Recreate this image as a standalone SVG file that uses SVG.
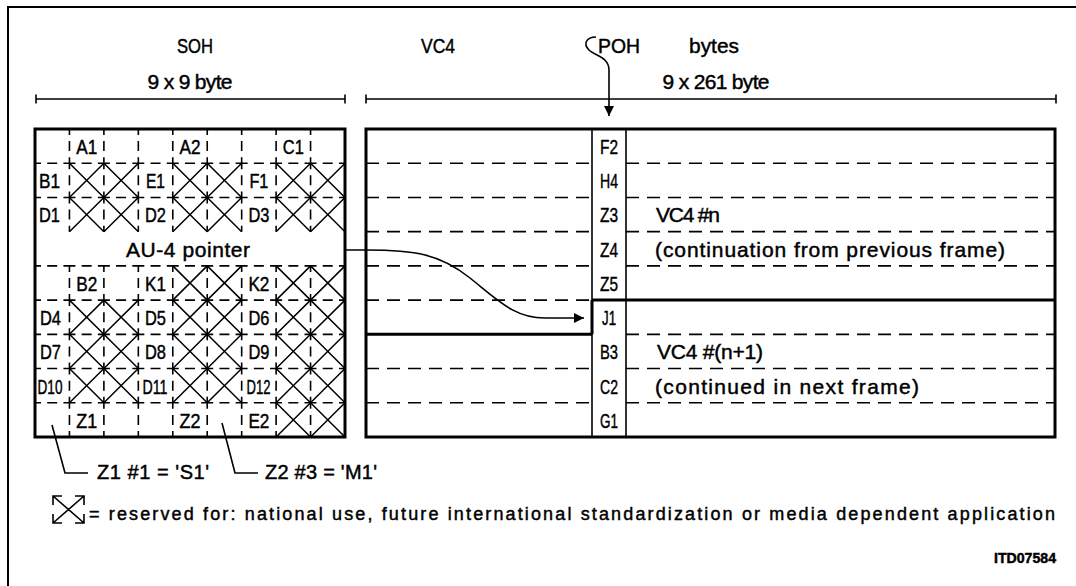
<svg xmlns="http://www.w3.org/2000/svg" xmlns:xlink="http://www.w3.org/1999/xlink" width="1076" height="586" viewBox="0 0 1076 586">
<style>
.t{font-family:"Liberation Sans",Arial,sans-serif;fill:#000;stroke:#000;stroke-width:0.45}
.lbl{font-size:21px;text-anchor:middle}
.big{font-size:21px}
.leg{font-size:20px}
.thick{fill:none;stroke:#000;stroke-width:3}
.thin{fill:none;stroke:#000;stroke-width:1.6}
.hd{fill:none;stroke:#000;stroke-width:1.6;stroke-dasharray:12 6.22 10 6.22;stroke-dashoffset:6}
.vd{fill:none;stroke:#000;stroke-width:1.6;stroke-dasharray:12 6.11 10 6.11;stroke-dashoffset:6}
.vcd{fill:none;stroke:#000;stroke-width:1.6;stroke-dasharray:13 8}
.xx{fill:none;stroke:#000;stroke-width:1.5}
</style>
<defs>
<path id="xc" class="xx" d="M0,0 L34.44,34.22 M34.44,0 L0,34.22"/>
<marker id="ah" viewBox="0 0 10 10" refX="10" refY="5" markerWidth="13" markerHeight="10" markerUnits="userSpaceOnUse" orient="auto"><path d="M0,0 L10,5 L0,10 z" fill="#000"/></marker>
</defs>
<rect width="1076" height="586" fill="#fff"/>
<!-- page frame -->
<path d="M8,590 V7 H1080" fill="none" stroke="#000" stroke-width="2"/>

<!-- headings -->
<g id="headings">
<text class="t big" x="195" y="53" text-anchor="middle" textLength="36" lengthAdjust="spacingAndGlyphs">SOH</text>
<text class="t big" x="438" y="53" text-anchor="middle" textLength="34" lengthAdjust="spacingAndGlyphs">VC4</text>
<text class="t big" x="598" y="53"><tspan textLength="42" lengthAdjust="spacingAndGlyphs">POH</tspan><tspan x="689" textLength="50" lengthAdjust="spacingAndGlyphs">bytes</tspan></text>
<text class="t big" x="190" y="89" text-anchor="middle" textLength="85" lengthAdjust="spacing">9 x 9 byte</text>
<text class="t big" x="716" y="89" text-anchor="middle" textLength="107" lengthAdjust="spacing">9 x 261 byte</text>
</g>

<!-- dimension lines -->
<g id="dimensions" class="thin">
<path d="M36,99 H345 M36,94.5 V103.5 M345,94.5 V103.5"/>
<path d="M366,99 H1056 M366,94.5 V103.5 M1056,94.5 V103.5"/>
</g>

<!-- SOH block -->
<g id="soh">
<g id="soh-x">
<use xlink:href="#xc" x="69.44" y="163.22"/><use xlink:href="#xc" x="103.89" y="163.22"/><use xlink:href="#xc" x="172.78" y="163.22"/><use xlink:href="#xc" x="207.22" y="163.22"/><use xlink:href="#xc" x="276.11" y="163.22"/><use xlink:href="#xc" x="310.56" y="163.22"/>
<use xlink:href="#xc" x="69.44" y="197.44"/><use xlink:href="#xc" x="103.89" y="197.44"/><use xlink:href="#xc" x="172.78" y="197.44"/><use xlink:href="#xc" x="207.22" y="197.44"/><use xlink:href="#xc" x="276.11" y="197.44"/><use xlink:href="#xc" x="310.56" y="197.44"/>
<use xlink:href="#xc" x="172.78" y="265.89"/><use xlink:href="#xc" x="207.22" y="265.89"/><use xlink:href="#xc" x="276.11" y="265.89"/><use xlink:href="#xc" x="310.56" y="265.89"/>
<use xlink:href="#xc" x="69.44" y="300.11"/><use xlink:href="#xc" x="103.89" y="300.11"/><use xlink:href="#xc" x="172.78" y="300.11"/><use xlink:href="#xc" x="207.22" y="300.11"/><use xlink:href="#xc" x="276.11" y="300.11"/><use xlink:href="#xc" x="310.56" y="300.11"/>
<use xlink:href="#xc" x="69.44" y="334.33"/><use xlink:href="#xc" x="103.89" y="334.33"/><use xlink:href="#xc" x="172.78" y="334.33"/><use xlink:href="#xc" x="207.22" y="334.33"/><use xlink:href="#xc" x="276.11" y="334.33"/><use xlink:href="#xc" x="310.56" y="334.33"/>
<use xlink:href="#xc" x="69.44" y="368.56"/><use xlink:href="#xc" x="103.89" y="368.56"/><use xlink:href="#xc" x="172.78" y="368.56"/><use xlink:href="#xc" x="207.22" y="368.56"/><use xlink:href="#xc" x="276.11" y="368.56"/><use xlink:href="#xc" x="310.56" y="368.56"/>
<use xlink:href="#xc" x="276.11" y="402.78"/><use xlink:href="#xc" x="310.56" y="402.78"/>
</g>
<path class="hd" d="M35,163.22 H345 M35,197.44 H345 M35,265.89 H345 M35,300.11 H345 M35,334.33 H345 M35,368.56 H345 M35,402.78 H345"/>
<path class="vd" d="M69.44,129 V231.67 M103.89,129 V231.67 M138.33,129 V231.67 M172.78,129 V231.67 M207.22,129 V231.67 M241.67,129 V231.67 M276.11,129 V231.67 M310.56,129 V231.67"/>
<path class="vd" d="M69.44,265.89 V437 M103.89,265.89 V437 M138.33,265.89 V437 M172.78,265.89 V437 M207.22,265.89 V437 M241.67,265.89 V437 M276.11,265.89 V437 M310.56,265.89 V437"/>
<rect class="thick" x="35" y="129" width="310" height="308"/>
<g class="t lbl">
<text x="86.7" y="154" textLength="21" lengthAdjust="spacingAndGlyphs">A1</text>
<text x="190" y="154" textLength="21" lengthAdjust="spacingAndGlyphs">A2</text>
<text x="293.3" y="154" textLength="21" lengthAdjust="spacingAndGlyphs">C1</text>
<text x="49.5" y="188.2" textLength="21" lengthAdjust="spacingAndGlyphs">B1</text>
<text x="155.5" y="188.2" textLength="19" lengthAdjust="spacingAndGlyphs">E1</text>
<text x="258.9" y="188.2" textLength="19" lengthAdjust="spacingAndGlyphs">F1</text>
<text x="49.5" y="222.4" textLength="21" lengthAdjust="spacingAndGlyphs">D1</text>
<text x="155.5" y="222.4" textLength="21" lengthAdjust="spacingAndGlyphs">D2</text>
<text x="258.9" y="222.4" textLength="21" lengthAdjust="spacingAndGlyphs">D3</text>
<text x="188" y="257" textLength="124" lengthAdjust="spacing">AU-4 pointer</text>
<text x="86.7" y="290.9" textLength="21" lengthAdjust="spacingAndGlyphs">B2</text>
<text x="155.5" y="290.9" textLength="21" lengthAdjust="spacingAndGlyphs">K1</text>
<text x="258.9" y="290.9" textLength="21" lengthAdjust="spacingAndGlyphs">K2</text>
<text x="50.5" y="325.1" textLength="21" lengthAdjust="spacingAndGlyphs">D4</text>
<text x="155.5" y="325.1" textLength="21" lengthAdjust="spacingAndGlyphs">D5</text>
<text x="258.9" y="325.1" textLength="21" lengthAdjust="spacingAndGlyphs">D6</text>
<text x="50.5" y="359.4" textLength="21" lengthAdjust="spacingAndGlyphs">D7</text>
<text x="155.5" y="359.4" textLength="21" lengthAdjust="spacingAndGlyphs">D8</text>
<text x="258.9" y="359.4" textLength="21" lengthAdjust="spacingAndGlyphs">D9</text>
<text x="50" y="393.6" textLength="25" lengthAdjust="spacingAndGlyphs">D10</text>
<text x="155" y="393.6" textLength="25" lengthAdjust="spacingAndGlyphs">D11</text>
<text x="258.5" y="393.6" textLength="24" lengthAdjust="spacingAndGlyphs">D12</text>
<text x="86.7" y="427.8" textLength="21" lengthAdjust="spacingAndGlyphs">Z1</text>
<text x="190" y="427.8" textLength="21" lengthAdjust="spacingAndGlyphs">Z2</text>
<text x="258.9" y="427.8" textLength="21" lengthAdjust="spacingAndGlyphs">E2</text>
</g>
</g>

<!-- VC4 block -->
<g id="vc4">
<path class="vcd" d="M366,163.22 H592 M366,197.44 H592 M366,231.67 H592 M366,265.89 H592 M366,300.11 H592 M366,368.56 H592 M366,402.78 H592"/>
<path class="vcd" d="M626,163.22 H1055 M626,197.44 H1055 M626,231.67 H1055 M626,265.89 H1055 M626,334.33 H1055 M626,368.56 H1055 M626,402.78 H1055"/>
<path class="thin" d="M592,129 V437 M626,129 V437"/>
<path class="thick" d="M592,300.11 H1055 M592,300.11 V334.33 M366,334.33 H592"/>
<rect class="thick" x="366" y="129" width="689" height="308"/>
<g class="t lbl">
<text x="609" y="154" textLength="18" lengthAdjust="spacingAndGlyphs">F2</text>
<text x="609" y="188.2" textLength="18" lengthAdjust="spacingAndGlyphs">H4</text>
<text x="609" y="222.4" textLength="18" lengthAdjust="spacingAndGlyphs">Z3</text>
<text x="609" y="256.6" textLength="18" lengthAdjust="spacingAndGlyphs">Z4</text>
<text x="609" y="290.9" textLength="18" lengthAdjust="spacingAndGlyphs">Z5</text>
<text x="609" y="325.1" textLength="14" lengthAdjust="spacingAndGlyphs">J1</text>
<text x="609" y="359.4" textLength="18" lengthAdjust="spacingAndGlyphs">B3</text>
<text x="609" y="393.6" textLength="18" lengthAdjust="spacingAndGlyphs">C2</text>
<text x="609" y="427.8" textLength="18" lengthAdjust="spacingAndGlyphs">G1</text>
</g>
<g class="t big">
<text x="656" y="222.4" textLength="64" lengthAdjust="spacing">VC4 #n</text>
<text x="655" y="256.6" textLength="350" lengthAdjust="spacing">(continuation from previous frame)</text>
<text x="657" y="359.4" textLength="106" lengthAdjust="spacing">VC4 #(n+1)</text>
<text x="655" y="393.6" textLength="264" lengthAdjust="spacing">(continued in next frame)</text>
</g>
</g>

<!-- connectors -->
<g id="connectors">
<path class="thin" d="M596,37 C586,37 583,44 589,50 C595,56 609,57 609,70 L609,116" marker-end="url(#ah)"/>
<path class="thin" d="M345,250 L366,250 C415,250 440,254 470,278 C500,302 515,318 545,318 L584,318" marker-end="url(#ah)"/>
<path class="thin" d="M52,425 L65,473 H88"/>
<path class="thin" d="M222,423 L235,473 H258"/>
</g>

<!-- legend -->
<g id="legend">
<text class="t leg" x="97" y="479" textLength="112" lengthAdjust="spacing">Z1 #1 = 'S1'</text>
<text class="t leg" x="265" y="479" textLength="112" lengthAdjust="spacing">Z2 #3 = 'M1'</text>
<g class="thin">
<path d="M53,505 V496 H62 M75,496 H84 V505 M84,514 V523 H75 M62,523 H53 V514 M53,496 L84,523 M84,496 L53,523"/>
</g>
<text class="t" font-size="18" x="89" y="520" textLength="966" lengthAdjust="spacing">= reserved for: national use, future international standardization or media dependent application</text>
<text class="t" font-size="14" font-weight="bold" x="1056" y="563" text-anchor="end" textLength="62" lengthAdjust="spacingAndGlyphs">ITD07584</text>
</g>
</svg>
